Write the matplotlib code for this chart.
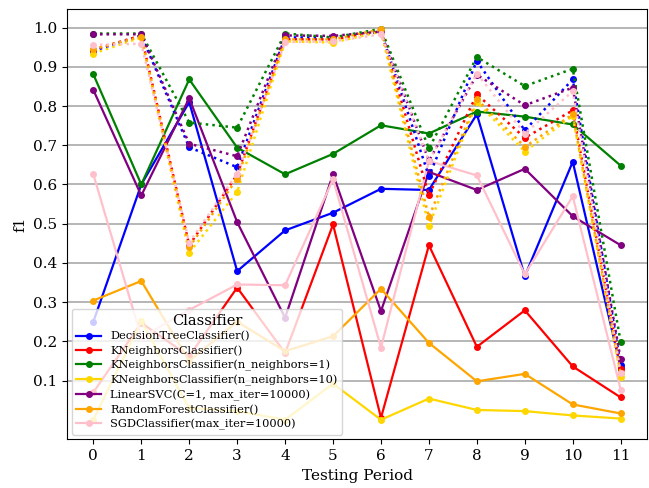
import matplotlib
matplotlib.use('Agg')
import matplotlib.pyplot as plt
import numpy as np

plt.rcParams['font.family'] = 'DejaVu Serif'

periods = list(range(12))

classifiers = [
    "DecisionTreeClassifier()",
    "KNeighborsClassifier()",
    "KNeighborsClassifier(n_neighbors=1)",
    "KNeighborsClassifier(n_neighbors=10)",
    "LinearSVC(C=1, max_iter=10000)",
    "RandomForestClassifier()",
    "SGDClassifier(max_iter=10000)",
]
colors = ['blue', 'red', 'green', 'gold', 'purple', 'orange', 'pink']

# test f1 per period (solid lines)
test_dt = [0.25, 0.60, 0.81, 0.379, 0.483, 0.528, 0.589, 0.586, 0.779, 0.366, 0.658, 0.133]
test_knn = [0.07, 0.247, 0.162, 0.337, 0.17, 0.498, 0.005, 0.445, 0.186, 0.279, 0.136, 0.057]
test_knn1 = [0.881, 0.600, 0.868, 0.694, 0.626, 0.678, 0.751, 0.730, 0.786, 0.773, 0.753, 0.648]
test_knn10 = [0.0, 0.251, 0.03, 0.022, 0.0, 0.092, 0.0, 0.054, 0.025, 0.022, 0.011, 0.003]
test_svc = [0.841, 0.572, 0.820, 0.504, 0.260, 0.626, 0.277, 0.632, 0.586, 0.640, 0.519, 0.445]
test_rf = [0.304, 0.354, 0.15, 0.25, 0.175, 0.213, 0.334, 0.196, 0.098, 0.117, 0.039, 0.016]
test_sgd = [0.626, 0.21, 0.28, 0.345, 0.343, 0.613, 0.184, 0.660, 0.623, 0.371, 0.570, 0.077]

# dotted lines per period
dot_dt = [0.940, 0.980, 0.695, 0.644, 0.975, 0.975, 0.990, 0.621, 0.915, 0.738, 0.868, 0.140]
dot_knn = [0.944, 0.980, 0.445, 0.625, 0.970, 0.970, 0.990, 0.573, 0.830, 0.719, 0.789, 0.130]
dot_knn1 = [0.985, 0.985, 0.758, 0.745, 0.985, 0.975, 0.997, 0.692, 0.925, 0.851, 0.895, 0.198]
dot_knn10 = [0.934, 0.975, 0.426, 0.581, 0.965, 0.962, 0.990, 0.494, 0.810, 0.684, 0.775, 0.110]
dot_svc = [0.983, 0.983, 0.704, 0.672, 0.980, 0.979, 0.990, 0.660, 0.880, 0.802, 0.847, 0.154]
dot_rf = [0.945, 0.977, 0.440, 0.615, 0.970, 0.970, 0.996, 0.517, 0.817, 0.696, 0.779, 0.118]
dot_sgd = [0.956, 0.959, 0.452, 0.628, 0.963, 0.965, 0.983, 0.660, 0.883, 0.730, 0.838, 0.120]

test_scores = [test_dt, test_knn, test_knn1, test_knn10, test_svc, test_rf, test_sgd]
dot_scores = [dot_dt, dot_knn, dot_knn1, dot_knn10, dot_svc, dot_rf, dot_sgd]

fig = plt.figure(figsize=(6.49, 4.88), dpi=100)
ax = fig.add_axes([0.1032, 0.0998, 0.8938, 0.8812])

for name, col, ys in zip(classifiers, colors, test_scores):
    ax.plot(periods, ys, '-o', color=col, linewidth=1.6, markersize=4, label=name)
for col, ys in zip(colors, dot_scores):
    ax.plot(periods, ys, ':o', color=col, linewidth=1.8, markersize=4)

ax.set_xticks(periods)
ax.set_yticks(np.round(np.arange(0.1, 1.01, 0.1), 1))
ax.set_yticklabels([f"{v:.1f}" for v in np.arange(0.1, 1.01, 0.1)])
ax.yaxis.grid(True, color='darkgray', linewidth=1.2)
ax.set_axisbelow(True)
ax.set_xlabel("Testing Period", fontsize=11)
ax.set_ylabel("f1", fontsize=11)
ax.tick_params(labelsize=11)

ax.legend(title="Classifier", loc='lower left', fontsize=8.2, title_fontsize=10.5,
          handlelength=2.2, labelspacing=0.33, borderaxespad=0.4)

fig.savefig('out.png', dpi=100)
